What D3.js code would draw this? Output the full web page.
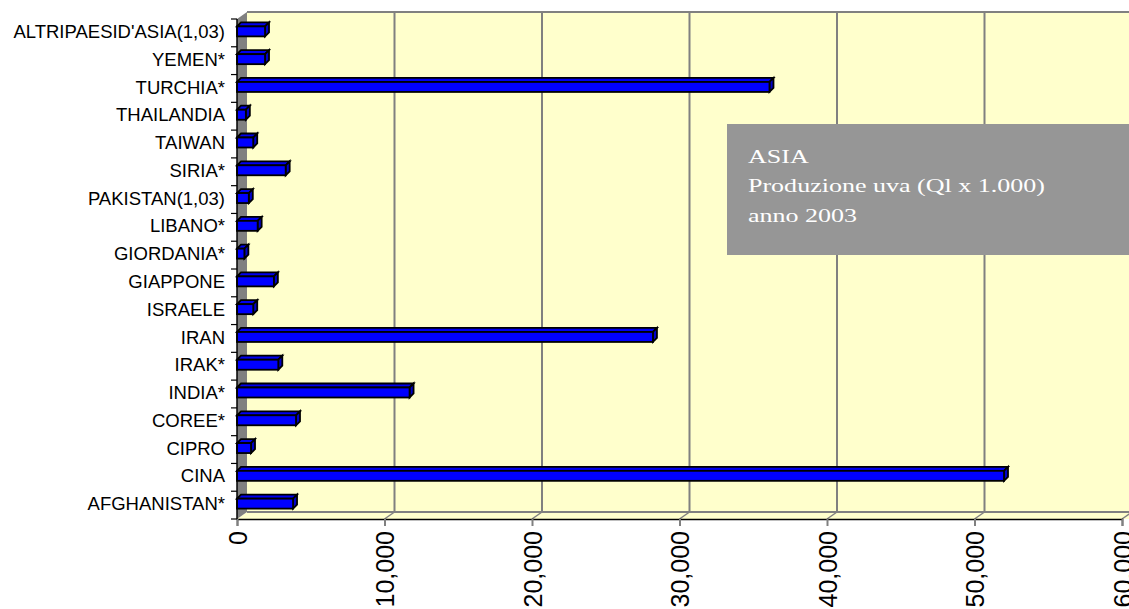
<!DOCTYPE html>
<html>
<head>
<meta charset="utf-8">
<script src="https://cdn.jsdelivr.net/npm/d3@7"></script>
<style>
  html, body { margin: 0; padding: 0; background: #ffffff; }
  svg { display: block; }
</style>
</head>
<body>
<svg id="chart" width="1129" height="609"></svg>
<script>
// ---- data ----
const categories = [
  "ALTRIPAESID'ASIA(1,03)", "YEMEN*", "TURCHIA*", "THAILANDIA", "TAIWAN", "SIRIA*",
  "PAKISTAN(1,03)", "LIBANO*", "GIORDANIA*", "GIAPPONE", "ISRAELE", "IRAN",
  "IRAK*", "INDIA*", "COREE*", "CIPRO", "CINA", "AFGHANISTAN*"
];
const values = [
  1900, 1900, 36100, 600, 1100, 3300,
  800, 1400, 500, 2500, 1100, 28200,
  2800, 11700, 4000, 950, 52000, 3800
];
const xTicks = [0, 10000, 20000, 30000, 40000, 50000, 60000];
const titleLines = ["ASIA", "Produzione uva (Ql x 1.000)", "anno 2003"];

// ---- layout ----
const svg = d3.select("#chart");
const pLeft = 237, pRight = 1122, pTop = 19, pBottom = 519;
const depthX = 10, depthY = -7;      // chart depth (back wall offset)
const barDX = 4, barDY = -4;         // bar depth

const x = d3.scaleLinear().domain([0, 60000]).range([pLeft, pRight]);
const y = d3.scaleBand().domain(categories).range([pTop, pBottom]).paddingInner(0).paddingOuter(0);

const gridColor = "#808080";
const wallFill = "#FFFFCC";

// back wall
svg.append("rect")
  .attr("x", pLeft + depthX).attr("y", pTop + depthY)
  .attr("width", pRight - pLeft + 20).attr("height", pBottom - pTop)
  .attr("fill", wallFill);

// floor
svg.append("path")
  .attr("d", `M${pLeft},${pBottom} L${pLeft + depthX},${pBottom + depthY} L${pRight + depthX + 20},${pBottom + depthY} L${pRight + 20},${pBottom} Z`)
  .attr("fill", wallFill);

// back wall gridlines
svg.append("g").selectAll("line")
  .data(xTicks.slice(1))
  .join("line")
  .attr("x1", d => x(d) + depthX).attr("x2", d => x(d) + depthX)
  .attr("y1", pTop + depthY).attr("y2", pBottom + depthY)
  .attr("stroke", gridColor).attr("stroke-width", 2);

// floor slants
svg.append("g").selectAll("line")
  .data(xTicks.slice(1))
  .join("line")
  .attr("x1", d => x(d)).attr("y1", pBottom)
  .attr("x2", d => x(d) + depthX).attr("y2", pBottom + depthY)
  .attr("stroke", gridColor).attr("stroke-width", 1.5);

// top edge of back wall and back floor line
svg.append("line")
  .attr("x1", pLeft + depthX).attr("x2", 1140)
  .attr("y1", pTop + depthY).attr("y2", pTop + depthY)
  .attr("stroke", gridColor).attr("stroke-width", 2);
svg.append("line")
  .attr("x1", pLeft + depthX).attr("x2", 1140)
  .attr("y1", pBottom + depthY).attr("y2", pBottom + depthY)
  .attr("stroke", gridColor).attr("stroke-width", 2);

// left wall
svg.append("path")
  .attr("d", `M${pLeft},${pTop} L${pLeft + depthX},${pTop + depthY} L${pLeft + depthX},${pBottom + depthY} L${pLeft},${pBottom} Z`)
  .attr("fill", "#808080");

// title box
const box = svg.append("g");
box.append("rect")
  .attr("x", 727).attr("y", 124).attr("width", 420).attr("height", 131)
  .attr("fill", "#969696");
const tg = box.append("g").attr("transform", "translate(748,0) scale(1.37,1)");
tg.selectAll("text")
  .data(titleLines)
  .join("text")
  .attr("x", 0)
  .attr("y", (d, i) => 163 + i * 29.5)
  .attr("fill", "#ffffff")
  .attr("font-family", "'Liberation Serif', 'Times New Roman', serif")
  .attr("font-size", 19)
  .text(d => d);

// bars (3D)
const bars = svg.append("g");
const bh = 10;
categories.forEach((c, i) => {
  const cy = y(c) + y.bandwidth() / 2;
  const y0 = cy - 6.5, y1 = y0 + bh;
  const x0 = x(0), x1 = x(values[i]);
  const g = bars.append("g")
    .attr("stroke", "#000").attr("stroke-width", 1.8).attr("stroke-linejoin", "miter");
  g.append("path")
    .attr("d", `M${x0},${y0} L${x0 + barDX},${y0 + barDY} L${x1 + barDX},${y0 + barDY} L${x1},${y0} Z`)
    .attr("fill", "#0000F0");
  g.append("path")
    .attr("d", `M${x1},${y0} L${x1 + barDX},${y0 + barDY} L${x1 + barDX},${y1 + barDY} L${x1},${y1} Z`)
    .attr("fill", "#0000C8");
  g.append("rect")
    .attr("x", x0).attr("y", y0).attr("width", x1 - x0).attr("height", bh)
    .attr("fill", "#0000FF");
});

// x axis
const xAxis = d3.axisBottom(x).tickValues(xTicks).tickSize(7).tickFormat(d3.format(","));
const gx = svg.append("g").attr("transform", `translate(0,${pBottom})`).call(xAxis);
gx.select(".domain").attr("stroke", "#000").attr("stroke-width", 1.5);
gx.selectAll(".tick line").attr("stroke", gridColor).attr("stroke-width", 2);
gx.selectAll(".tick text")
  .attr("font-family", "'Liberation Sans', Arial, sans-serif")
  .attr("font-size", 25)
  .attr("fill", "#000")
  .attr("text-anchor", "end")
  .attr("transform", "translate(0,12) rotate(-90)")
  .attr("x", 0).attr("y", 0).attr("dy", "0.36em");

// y axis line and ticks at band boundaries
svg.append("line")
  .attr("x1", pLeft).attr("x2", pLeft).attr("y1", pTop).attr("y2", pBottom)
  .attr("stroke", "#000").attr("stroke-width", 1.5);
const boundaries = categories.map(c => y(c)).concat([pBottom]);
svg.append("g").selectAll("line")
  .data(boundaries)
  .join("line")
  .attr("x1", pLeft - 6).attr("x2", pLeft)
  .attr("y1", d => d).attr("y2", d => d)
  .attr("stroke", "#000").attr("stroke-width", 1.2);

// category labels
svg.append("g").selectAll("text")
  .data(categories)
  .join("text")
  .attr("x", 225)
  .attr("y", d => y(d) + y.bandwidth() / 2 - 1.5)
  .attr("dy", "0.36em")
  .attr("text-anchor", "end")
  .attr("font-family", "'Liberation Sans', Arial, sans-serif")
  .attr("font-size", 18.5)
  .attr("fill", "#000")
  .text(d => d);
</script>
</body>
</html>
